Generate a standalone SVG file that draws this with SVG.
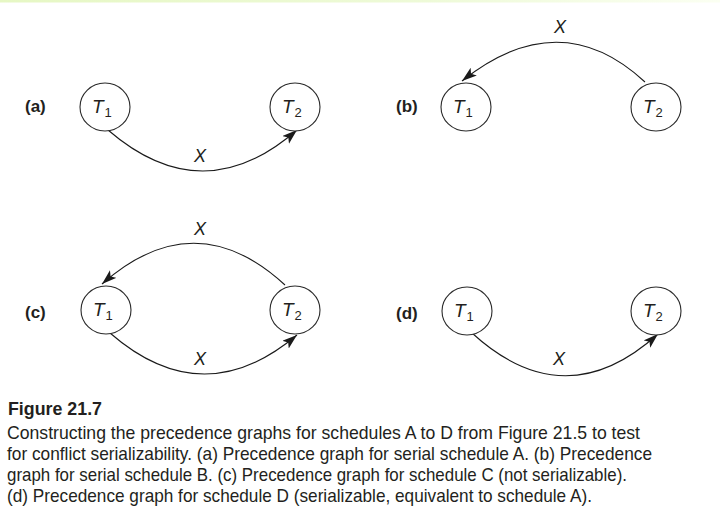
<svg xmlns="http://www.w3.org/2000/svg" width="720" height="526" viewBox="0 0 720 526">
<defs>
<linearGradient id="topband" x1="0" y1="0" x2="1" y2="0">
<stop offset="0" stop-color="#e6f7c4"/>
<stop offset="0.6" stop-color="#eefad8"/>
<stop offset="1" stop-color="#fbfff2"/>
</linearGradient>
<marker id="arr" markerUnits="userSpaceOnUse" markerWidth="18" markerHeight="12" refX="15" refY="5" orient="auto">
<path d="M0,0 L15,5 L0,10 L3.5,5 z" fill="#1a1a1a"/>
</marker>
</defs>
<style>
.node ellipse{fill:#fff;stroke:#2a2a2a;stroke-width:1.1}
.nl{font-family:"Liberation Sans",Arial,sans-serif;font-style:italic;font-size:19px;fill:#231f20}
.sub{font-family:"Liberation Sans",Arial,sans-serif;font-style:normal;font-size:13px;fill:#231f20}
.edge{fill:none;stroke:#1a1a1a;stroke-width:1.1;marker-end:url(#arr)}
.el{font-family:"Liberation Sans",Arial,sans-serif;font-style:italic;font-size:18px;fill:#231f20;text-anchor:middle}
.pl{font-family:"Liberation Sans",Arial,sans-serif;font-weight:bold;font-size:17px;fill:#231f20}
.cap{font-family:"Liberation Sans",Arial,sans-serif;font-size:19px;fill:#231f20}
.capb{font-family:"Liberation Sans",Arial,sans-serif;font-weight:bold;font-size:19px;fill:#231f20}
</style>
<rect x="0" y="0" width="720" height="526" fill="#fff"/>
<rect x="0" y="0" width="720" height="2.5" fill="url(#topband)"/>

<g id="connectors">
<path class="edge" d="M108,130 Q203,212 297,130"/>
<path class="edge" d="M645,82 Q560,3 462,81"/>
<path class="edge" d="M285,285 Q195,202 102,284"/>
<path class="edge" d="M110,333 Q203,414 297,335"/>
<path class="edge" d="M472,333 Q565,418 658,334"/>
<text class="el" x="200" y="162">X</text>
<text class="el" x="560" y="33">X</text>
<text class="el" x="200" y="235">X</text>
<text class="el" x="200" y="365">X</text>
<text class="el" x="559" y="365">X</text>
</g>

<g id="panel-labels">
<text class="pl" x="25" y="112">(a)</text>
<text class="pl" x="396" y="112">(b)</text>
<text class="pl" x="25" y="318">(c)</text>
<text class="pl" x="396" y="319">(d)</text>
</g>

<g id="a-T1" class="node"><ellipse cx="105" cy="107" rx="25" ry="24"/><text class="nl" x="92" y="113">T<tspan class="sub" dx="1" dy="4">1</tspan></text></g>
<g id="a-T2" class="node"><ellipse cx="295" cy="107" rx="25" ry="24"/><text class="nl" x="282" y="113">T<tspan class="sub" dx="1" dy="4">2</tspan></text></g>
<g id="b-T1" class="node"><ellipse cx="466" cy="107" rx="25" ry="24"/><text class="nl" x="453" y="113">T<tspan class="sub" dx="1" dy="4">1</tspan></text></g>
<g id="b-T2" class="node"><ellipse cx="656" cy="107" rx="25" ry="24"/><text class="nl" x="643" y="113">T<tspan class="sub" dx="1" dy="4">2</tspan></text></g>
<g id="c-T1" class="node"><ellipse cx="106" cy="310" rx="25" ry="24"/><text class="nl" x="93" y="316">T<tspan class="sub" dx="1" dy="4">1</tspan></text></g>
<g id="c-T2" class="node"><ellipse cx="295" cy="310" rx="25" ry="24"/><text class="nl" x="282" y="316">T<tspan class="sub" dx="1" dy="4">2</tspan></text></g>
<g id="d-T1" class="node"><ellipse cx="467" cy="311" rx="25" ry="24"/><text class="nl" x="454" y="317">T<tspan class="sub" dx="1" dy="4">1</tspan></text></g>
<g id="d-T2" class="node"><ellipse cx="656" cy="311" rx="25" ry="24"/><text class="nl" x="643" y="317">T<tspan class="sub" dx="1" dy="4">2</tspan></text></g>

<g id="caption">
<text class="capb" x="8" y="415" textLength="94" lengthAdjust="spacingAndGlyphs">Figure 21.7</text>
<text class="cap" x="7" y="439" textLength="633" lengthAdjust="spacingAndGlyphs">Constructing the precedence graphs for schedules A to D from Figure 21.5 to test</text>
<text class="cap" x="7" y="460" textLength="645" lengthAdjust="spacingAndGlyphs">for conflict serializability. (a) Precedence graph for serial schedule A. (b) Precedence</text>
<text class="cap" x="7" y="481" textLength="620" lengthAdjust="spacingAndGlyphs">graph for serial schedule B. (c) Precedence graph for schedule C (not serializable).</text>
<text class="cap" x="7" y="502" textLength="585" lengthAdjust="spacingAndGlyphs">(d) Precedence graph for schedule D (serializable, equivalent to schedule A).</text>
</g>
</svg>
